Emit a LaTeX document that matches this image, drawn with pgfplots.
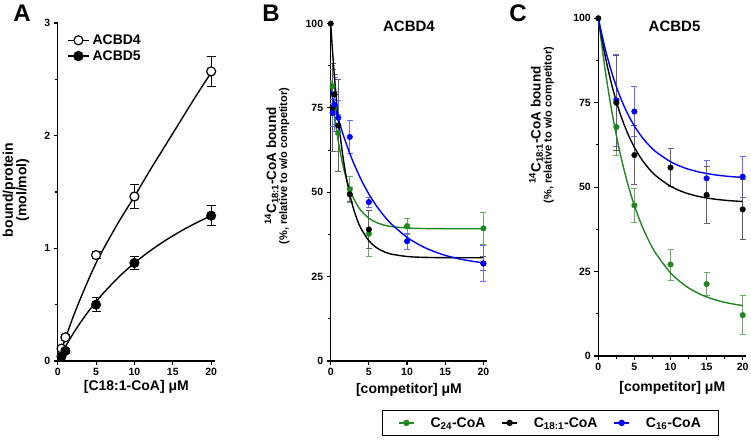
\documentclass[border=0pt]{standalone}
\usepackage{fontspec}
\setmainfont{Liberation Sans}
\usepackage{pgfplots}
\pgfplotsset{compat=1.18}
\definecolor{cgreen}{RGB}{30,135,30}
\definecolor{cgreenE}{RGB}{105,170,105}
\definecolor{cblue}{RGB}{0,0,255}
\definecolor{cblueE}{RGB}{105,105,255}
\definecolor{cgrayE}{RGB}{95,95,95}
\pgfplotsset{
  panel/.style={
    scale only axis, clip=false,
    axis lines=left,
    axis line style={line width=1.4pt,-},
    every tick/.style={black, line width=1.1pt},
    major tick length=4pt, minor tick length=2.5pt,
    tick align=outside,
    xmin=0, xmax=20.5, xtick={0,5,10,15,20},
    every tick label/.append style={font=\bfseries\fontsize{10.5}{12}\selectfont},
    /pgf/number format/assume math mode=true,
    xlabel style={font=\bfseries\fontsize{14}{16}\selectfont, anchor=center},
    title style={font=\bfseries\fontsize{15}{17}\selectfont, anchor=center},
    minor y tick num=1,
  },
  ebar/.style={error bars/y dir=both, error bars/y explicit,
     error bars/error bar style={line width=0.8pt, #1},
     error bars/error mark options={rotate=90, mark size=3pt, line width=0.8pt, #1}},
  ebarA/.style={error bars/y dir=both, error bars/y explicit,
     error bars/error bar style={line width=0.9pt, black},
     error bars/error mark options={rotate=90, mark size=4.5pt, line width=0.9pt, black}},
  pt/.style={only marks, mark=*, mark size=2.8pt, color=#1, mark options={solid, fill=#1, draw=#1}},
  crv/.style={smooth, no marks, line width=1.4pt, color=#1},
}
\begin{document}
\begin{tikzpicture}[x=1pt,y=1pt]
% ---------------- Panel A ----------------
\begin{axis}[panel, at={(57.7pt,80pt)}, anchor=south west,
  width=157.3pt, height=338pt,
  ymin=0, ymax=3, ytick={0,1,2,3},
  xlabel={[C18:1-CoA] μM},
  xlabel style={at={(axis description cs:0.5,-0.078)}},
  legend style={draw=none, fill=none, at={(axis description cs:0.06,0.969)}, anchor=north west,
    font=\bfseries\fontsize{14}{16}\selectfont, row sep=2.5pt, inner sep=0pt,
    nodes={inner xsep=3pt, inner ysep=1pt}},
  legend cell align=left,
]
\addlegendimage{legend image code/.code={\draw[line width=1.2pt] (0pt,0pt)--(21pt,0pt); \draw[line width=1.2pt, fill=white] (10.5pt,0pt) circle (4.5pt);}}
\addlegendentry{ACBD4}
\addlegendimage{legend image code/.code={\draw[line width=1.2pt] (0pt,0pt)--(21pt,0pt); \fill (10.5pt,0pt) circle (5pt);}}
\addlegendentry{ACBD5}
\addplot[crv=black, forget plot] coordinates {(0,0) (0.5,0.1) (1,0.2) (2,0.39) (3,0.56) (4,0.72) (5,0.87) (6,1.0) (8,1.24) (10,1.46) (12,1.69) (14,1.91) (16,2.13) (18,2.35) (20,2.56)};
\addplot[crv=black, forget plot] coordinates {(0,0) (1,0.1267) (2,0.2412) (3,0.3451) (4,0.4398) (5,0.5266) (6,0.6063) (8,0.7479) (10,0.8697) (12,0.9756) (14,1.0686) (16,1.1509) (18,1.2242) (20,1.2899)};
\addplot[forget plot, only marks, mark=*, mark size=4.5pt, mark options={fill=white, draw=black, line width=1.2pt}, ebarA]
  coordinates {(0.5,0.11) +- (0,0.02) (1,0.21) +- (0,0.03) (5,0.94) +- (0,0.03) (10,1.46) +- (0,0.11) (20,2.57) +- (0,0.13)};
\addplot[forget plot, only marks, mark=*, mark size=4.8pt, mark options={fill=black, draw=black}, ebarA]
  coordinates {(0.5,0.04) +- (0,0.01) (1,0.09) +- (0,0.02) (5,0.50) +- (0,0.06) (10,0.87) +- (0,0.06) (20,1.29) +- (0,0.09)};
\end{axis}
% ---------------- Panel B ----------------
\begin{axis}[panel, at={(330.7pt,80pt)}, anchor=south west,
  width=156.5pt, height=337.4pt,
  ymin=0, ymax=100, ytick={0,25,50,75,100},
  xlabel={[competitor] μM},
  xlabel style={at={(axis description cs:0.5,-0.086)}},
  title={ACBD4}, title style={at={(axis description cs:0.5,0.973)}},
]
\addplot[pt=cgreen, ebar=cgreenE] coordinates {(0.25,81.4) +- (0,5) (0.5,75) +- (0,5) (1,67.6) +- (0,5.5) (2.5,50.9) +- (0,3.9) (5,37.7) +- (0,6.8) (10,40.0) +- (0,2.4) (20,39.3) +- (0,4.6)};
\addplot[pt=black, ebar=cgrayE] coordinates {(0.25,75.1) +- (0,13) (0.5,79.0) +- (0,6) (1,69.8) +- (0,13.7) (2.5,49.4) +- (0,2) (5,39.0) +- (0,5.7) (20,28.9) +- (0,2)};
\addplot[pt=cblue, ebar=cblueE] coordinates {(0.25,73.5) +- (0,4) (0.5,76.0) +- (0,8) (1,72.1) +- (0,5) (2.5,66.4) +- (0,4.9) (5,47.1) +- (0,1.5) (10,35.5) +- (0,2.4) (20,28.9) +- (0,5.4)};
\addplot[crv=cgreen] coordinates {(0,83.2) (0.25,77.74) (0.5,72.96) (0.75,68.77) (1,65.10) (1.5,59.07) (2,54.45) (2.5,50.90) (3,48.17) (3.5,46.09) (4,44.48) (5,42.31) (6,41.03) (7,40.28) (8,39.83) (10,39.42) (12,39.27) (15,39.21) (20,39.2)};
\addplot[crv=black] coordinates {(0,100) (0.25,91.48) (0.5,84.0) (0.75,77.45) (1,71.69) (1.5,62.22) (2,54.93) (2.5,49.32) (3,45.01) (3.5,41.69) (4,39.13) (5,35.65) (6,33.59) (7,32.37) (8,31.65) (10,30.97) (12,30.73) (15,30.63) (20,30.6)};
\addplot[crv=cblue] coordinates {(0,80.2) (0.5,75.78) (1,71.74) (1.5,68.03) (2,64.64) (2.5,61.52) (3,58.68) (4,53.67) (5,49.47) (6,45.94) (7,42.98) (8,40.50) (10,36.66) (12,33.96) (14,32.05) (16,30.70) (18,29.76) (20,29.09)};
\addplot[pt=black] coordinates {(0,100)};
\end{axis}
% ---------------- Panel C ----------------
\begin{axis}[panel, at={(598.3pt,85pt)}, anchor=south west,
  width=148pt, height=337.7pt,
  ymin=0, ymax=100, ytick={0,25,50,75,100},
  minor x tick num=1,
  xlabel={[competitor] μM},
  xlabel style={at={(axis description cs:0.5,-0.093)}},
  title={ACBD5}, title style={at={(axis description cs:0.515,0.958)}},
  legend style={at={(axis description cs:-0.323,-0.198)}, anchor=center,
    draw=black, line width=1.2pt, fill=white,
    font=\bfseries\fontsize{14}{16}\selectfont, legend columns=3,
    inner xsep=16pt, inner ysep=5pt,
    /tikz/every odd column/.append style={column sep=14pt},
    /tikz/every even column/.append style={column sep=14pt}},
]
\addplot[forget plot, pt=cgreen, ebar=cgreenE] coordinates {(2.5,67.8) +- (0,8.4) (5,44.6) +- (0,5) (10,27.1) +- (0,4.6) (15,21.3) +- (0,3.4) (20,12.1) +- (0,5.7)};
\addplot[forget plot, pt=cblue, ebar=cblueE] coordinates {(2.5,75.7) +- (0,13.6) (5,72.4) +- (0,7.5) (15,52.6) +- (0,5.2) (20,53.1) +- (0,6)};
\addplot[forget plot, pt=black, ebar=cgrayE] coordinates {(2.5,75.0) +- (0,14) (5,59.5) +- (0,8.7) (10,55.8) +- (0,5.7) (15,47.7) +- (0,8.3) (20,43.4) +- (0,8.8)};
\addplot[forget plot, crv=cgreen] coordinates {(0,100) (1,83.96) (2,70.91) (3,60.27) (4,51.60) (5,44.54) (6,38.78) (7,34.10) (8,30.28) (10,24.63) (12,20.89) (14,18.40) (16,16.75) (18,15.66) (20,14.94)};
\addplot[forget plot, crv=black] coordinates {(0,100) (1,88.33) (2,79.15) (3,71.93) (4,66.25) (5,61.78) (6,58.26) (7,55.49) (8,53.32) (10,50.26) (12,48.37) (14,47.20) (16,46.48) (18,46.03) (20,45.75)};
\addplot[forget plot, crv=cblue] coordinates {(0,100) (1,90.54) (2,82.96) (3,76.88) (4,72.01) (5,68.10) (6,64.96) (7,62.45) (8,60.44) (10,57.53) (12,55.66) (14,54.46) (16,53.69) (18,53.19) (20,52.87)};
\addplot[forget plot, pt=black] coordinates {(0,100)};
\addlegendimage{legend image code/.code={\draw[cgreen, line width=1.4pt] (0pt,0pt)--(15pt,0pt); \fill[cgreen] (7.5pt,0pt) circle (2.6pt);}}
\addlegendentry{C\textsubscript{24}-CoA}
\addlegendimage{legend image code/.code={\draw[black, line width=1.4pt] (0pt,0pt)--(15pt,0pt); \fill[black] (7.5pt,0pt) circle (2.6pt);}}
\addlegendentry{C\textsubscript{18:1}-CoA}
\addlegendimage{legend image code/.code={\draw[cblue, line width=1.4pt] (0pt,0pt)--(15pt,0pt); \fill[cblue] (7.5pt,0pt) circle (2.6pt);}}
\addlegendentry{C\textsubscript{16}-CoA}
\end{axis}
% ---------------- labels ----------------
\node[font=\bfseries\fontsize{24}{26}\selectfont] at (22,427.7) {A};
\node[font=\bfseries\fontsize{24}{26}\selectfont] at (271,427.7) {B};
\node[font=\bfseries\fontsize{24}{26}\selectfont] at (518,427.7) {C};
\node[rotate=90, align=center, font=\bfseries\fontsize{14}{13.5}\selectfont] at (16,251) {bound/protein\\(mol/mol)};
\node[rotate=90, align=center, font=\bfseries] at (277,275) {{\fontsize{13.5}{15}\selectfont \textsuperscript{14}C\textsubscript{18:1}-CoA bound}\\[-1pt]{\fontsize{11}{12}\selectfont (\%, relative to w/o competitor)}};
\node[rotate=90, align=center, font=\bfseries] at (541.5,316) {{\fontsize{13.5}{15}\selectfont \textsuperscript{14}C\textsubscript{18:1}-CoA bound}\\[-1pt]{\fontsize{11}{12}\selectfont (\%, relative to w/o competitor)}};
\pgfresetboundingbox
\path[use as bounding box] (0,0) rectangle (751,441);
\end{tikzpicture}
\end{document}
